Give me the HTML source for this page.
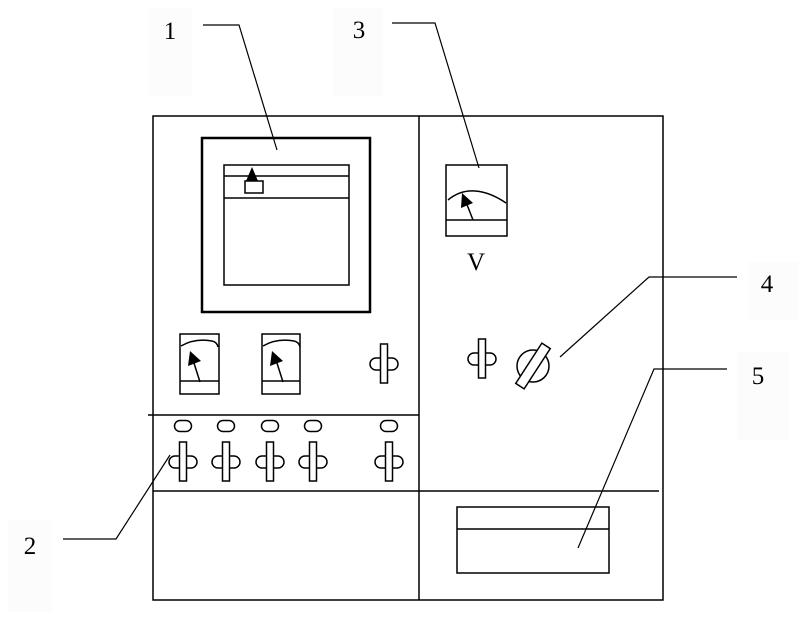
<!DOCTYPE html>
<html><head><meta charset="utf-8"><style>html,body{margin:0;padding:0;background:#fff}svg{display:block}</style></head><body>
<svg width="806" height="620" viewBox="0 0 806 620" xmlns="http://www.w3.org/2000/svg" font-family="Liberation Serif, serif">
<g fill="#fcfcfc">
<rect x="148" y="8" width="44" height="88"/><rect x="333" y="8" width="50" height="88"/>
<rect x="748" y="262" width="50" height="58"/><rect x="737" y="352" width="52" height="88"/>
<rect x="8" y="520" width="44" height="92"/>
</g>
<g fill="none" stroke="#000" stroke-width="1.5">
<rect x="153" y="116" width="510" height="484"/>
<line x1="419" y1="116" x2="419" y2="600"/>
<line x1="148" y1="415" x2="419" y2="415"/>
<line x1="153" y1="491" x2="659" y2="491"/>
<rect x="202" y="138" width="168" height="174" stroke-width="2.5"/>
<rect x="224" y="165" width="125" height="120"/>
<line x1="224" y1="176" x2="349" y2="176"/><line x1="224" y1="198" x2="349" y2="198"/>
<rect x="245" y="181" width="18" height="12"/>
<rect x="180" y="334" width="39" height="60"/><line x1="180" y1="381" x2="219" y2="381"/>
<path d="M181 346 Q195 338 212 341 Q217 342 218 347"/>
<line x1="200" y1="382" x2="193" y2="360"/>
<rect x="262" y="334" width="38" height="60"/><line x1="262" y1="381" x2="300" y2="381"/>
<path d="M263 346 Q277 338 294 341 Q299 342 300 347"/>
<line x1="283" y1="382" x2="276" y2="360"/>
<rect x="446" y="165" width="61" height="71"/><line x1="446" y1="220" x2="507" y2="220"/>
<path d="M448 200 Q460 190 475 191 Q490 192 506 203"/>
<line x1="473" y1="220" x2="466" y2="202"/>
<rect x="457" y="507" width="152" height="66"/><line x1="457" y1="529" x2="609" y2="529"/>
<circle cx="533" cy="366" r="16"/>
<polyline points="203,25 239,25 277,150" stroke-width="1.2"/>
<polyline points="392,23 435,23 479,168" stroke-width="1.2"/>
<polyline points="737,277 649,277 560,357" stroke-width="1.2"/>
<polyline points="727,369 654,369 578,548" stroke-width="1.2"/>
<polyline points="63,539 116,539 170,455" stroke-width="1.2"/>
</g>
<g fill="#000">
<polygon points="252,167 246,181 258,181"/>
<polygon points="190,351 188,366 201,361"/>
<polygon points="272,351 270,366 283,361"/>
<polygon points="462,193 461,208 473,203"/>
</g>
<rect x="509" y="361" width="48" height="10" transform="rotate(-57 533 366)" fill="#fff" stroke="#000" stroke-width="1.5"/>
<defs>
<g id="sw"><rect x="-14" y="-6" width="28" height="12" rx="6" fill="#fff" stroke="#000" stroke-width="1.5"/><rect x="-3.5" y="-20" width="7" height="39" fill="#fff" stroke="#000" stroke-width="1.5"/></g>
<g id="ov"><rect x="-8.5" y="-5.5" width="17" height="11" rx="5.5" fill="#fff" stroke="#000" stroke-width="1.5"/></g>
</defs>
<use href="#sw" x="384" y="364"/>
<use href="#sw" x="482" y="359"/>
<use href="#sw" x="183" y="462"/><use href="#sw" x="226" y="462"/><use href="#sw" x="270" y="462"/><use href="#sw" x="313" y="462"/><use href="#sw" x="389" y="462"/>
<use href="#ov" x="183" y="426"/><use href="#ov" x="226" y="426"/><use href="#ov" x="270" y="426"/><use href="#ov" x="313" y="426"/><use href="#ov" x="389" y="426"/>
<g font-size="25" fill="#000" text-anchor="middle">
<text x="170" y="39">1</text><text x="359" y="38">3</text>
<text x="767" y="292">4</text><text x="758" y="384">5</text>
<text x="30" y="554">2</text><text x="476" y="270">V</text>
</g>
</svg>
</body></html>
